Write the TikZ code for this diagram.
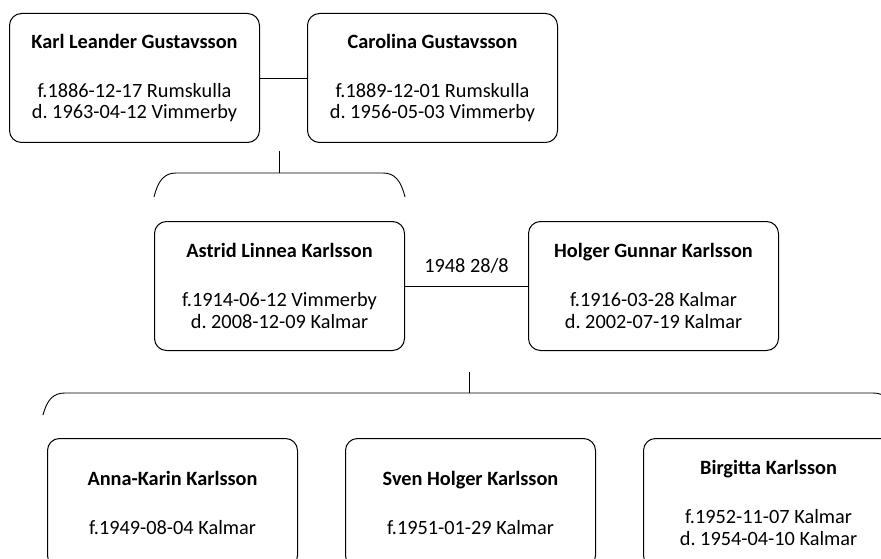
\documentclass[tikz,border=0pt]{standalone}
\usepackage{fontspec}
\setmainfont{Carlito}
\frenchspacing
\begin{document}
\begin{tikzpicture}[x=1pt,y=-1pt,
  person/.style={draw, line width=1pt, rounded corners=12pt, anchor=north west,
    minimum width=250pt, minimum height=129pt, align=center, inner sep=0pt,
    font=\fontsize{20.3}{21.5}\selectfont},
  conn/.style={line width=0.9pt}]
\useasboundingbox (0,0) rectangle (881,559);
\clip (0,0) rectangle (881,559);
% generation 1
\node[person] (karl) at (9,13) {\textbf{Karl Leander Gustavsson}\\[27.5pt]f.1886-12-17 Rumskulla\\d. 1963-04-12 Vimmerby};
\node[person] (carolina) at (307,13) {\textbf{Carolina Gustavsson}\\[27.5pt]f.1889-12-01 Rumskulla\\d. 1956-05-03 Vimmerby};
\draw[conn] (karl.east) -- (carolina.west);
% bracket 1
\coordinate (t1) at (279,151);
\coordinate (b1) at (279,173);
\coordinate (l1) at (154,197);
\coordinate (r1) at (405,197);
\draw[conn] (t1) -- (b1);
\draw[conn] (l1) .. controls (158,181) and (164,173) .. (176,173) -- (383,173) .. controls (395,173) and (401,181) .. (r1);
% generation 2
\node[person] (astrid) at (154,221) {\textbf{Astrid Linnea Karlsson}\\[27.5pt]f.1914-06-12 Vimmerby\\d. 2008-12-09 Kalmar};
\node[person] (holger) at (528,221) {\textbf{Holger Gunnar Karlsson}\\[27.5pt]f.1916-03-28 Kalmar\\d. 2002-07-19 Kalmar};
\draw[conn] (astrid.east) -- node[above=9pt, font=\fontsize{20.3}{21.5}\selectfont] (wed) {1948 28/8} (holger.west);
% bracket 2
\coordinate (t2) at (469,372);
\coordinate (b2) at (469,393);
\coordinate (l2) at (43,415);
\coordinate (r2) at (895,415);
\draw[conn] (t2) -- (b2);
\draw[conn] (l2) .. controls (47,400) and (53,393) .. (65,393) -- (873,393) .. controls (885,393) and (891,400) .. (r2);
% generation 3
\node[person] (anna) at (47,438) {\textbf{Anna-Karin Karlsson}\\[27.5pt]f.1949-08-04 Kalmar};
\node[person] (sven) at (345,438) {\textbf{Sven Holger Karlsson}\\[27.5pt]f.1951-01-29 Kalmar};
\node[person] (birgitta) at (643,438) {\textbf{Birgitta Karlsson}\\[27.5pt]f.1952-11-07 Kalmar\\d. 1954-04-10 Kalmar};
\end{tikzpicture}
\end{document}
